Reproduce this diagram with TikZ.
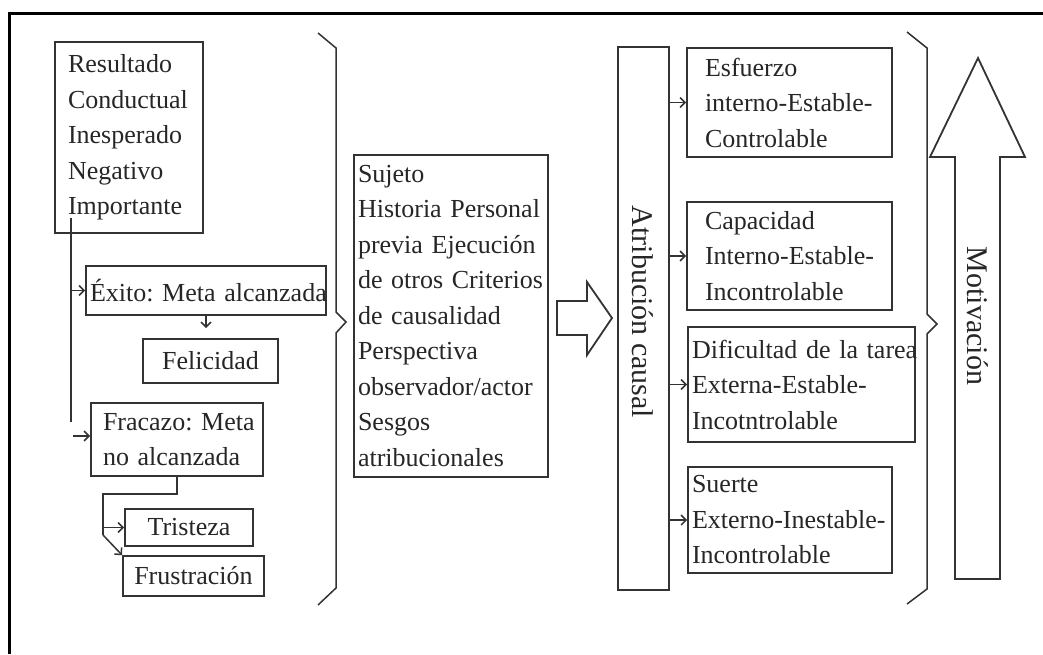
\documentclass[tikz,border=0pt]{standalone}
\usepackage{fontspec}
\setmainfont{Liberation Serif}
\usetikzlibrary{arrows.meta}
\definecolor{boxc}{HTML}{333333}
\definecolor{txt}{HTML}{262626}
\frenchspacing
\begin{document}
\frenchspacing
\begin{tikzpicture}[x=1pt,y=-1pt,
  box/.style={draw=boxc, line width=1.8pt, inner sep=0pt, text=txt, font=\fontsize{26}{35.5}\selectfont},
  lbox/.style={box, align=left},
  conn/.style={draw=boxc, line width=1.5pt, line join=miter},
  arr/.style={conn, -{Straight Barb[length=5pt,width=10pt]}},
  hollow/.style={draw=boxc, line width=1.8pt, line join=miter},
  vlab/.style={text=txt, font=\fontsize{30}{36}\selectfont, rotate=-90, inner sep=0pt}]
\useasboundingbox (0,0) rectangle (1043,654);
% frame (cropped)
\draw[line width=3pt, black] (1043,13) -- (9,13) -- (9,654);

% left column
\node[lbox, minimum width=148pt, minimum height=191pt, text width=122pt] (res) at (129,137.5)
  {Resultado\\Conductual\\Inesperado\\Negativo\\Importante};
\node[lbox, minimum width=240pt, minimum height=49pt, text width=232pt] (exito) at (206,290.5)
  {\mbox{Éxito: Meta alcanzada}};
\node[box, minimum width=135pt, minimum height=44pt] (feli) at (210.5,361) {Felicidad};
\node[lbox, minimum width=172pt, minimum height=73pt, text width=148pt] (fra) at (177,439.5)
  {\mbox{Fracazo: Meta}\\\mbox{no alcanzada}};
\node[box, minimum width=128pt, minimum height=37pt] (tri) at (189,527.5) {Tristeza};
\node[box, minimum width=141pt, minimum height=40pt] (fru) at (193.5,576) {Frustración};

\coordinate (t1) at (71,218);
\coordinate (t2) at (71,422);
\draw[conn] (t1) -- (t2);
\draw[arr] (t1 |- exito.west) -- (exito.west);
\coordinate (fin) at (73,436);
\draw[arr] (fin) -- (fin -| fra.west);
\draw[arr, shorten >=10pt] (exito.south) -- (exito.south |- feli.north);
\coordinate (b2) at (103,494);
\coordinate (b3) at (103,535);
\draw[conn] (fra.south) |- (b2) -- (b3);
\draw[arr] (b3 |- tri.west) -- (tri.west);
\draw[arr] (b3) -- (fru.north west);

% first brace
\draw[conn] (318,33) -- (336,48) -- (336,312) -- (346,322) -- (336,333) -- (336,588) -- (318,605);

% middle box
\node[lbox, minimum width=194pt, minimum height=322pt, text width=186pt] (suj) at (451,316)
  {Sujeto\\\mbox{Historia Personal}\\\mbox{previa Ejecución}\\\mbox{de otros Criterios}\\\mbox{de causalidad}\\Perspectiva\\observador/actor\\Sesgos\\atribucionales};

% hollow arrow
\draw[hollow] (557,301) -- (587,301) -- (587,282) -- (612,318) -- (587,355) -- (587,335) -- (557,335) -- cycle;

% attribution column
\node[box, minimum width=51pt, minimum height=543pt] (atr) at (643.5,318.5) {};
\node[vlab] (atrl) at (643,312) {Atribución causal};

\node[lbox, minimum width=205pt, minimum height=109pt, text width=169pt] (esf) at (789.5,102.5)
  {Esfuerzo\\\mbox{interno-Estable-}\\Controlable};
\node[lbox, minimum width=205pt, minimum height=108pt, text width=169pt] (cap) at (789.5,256)
  {Capacidad\\\mbox{Interno-Estable-}\\Incontrolable};
\node[lbox, minimum width=227pt, minimum height=115pt, text width=219pt] (dif) at (801.5,384.5)
  {\mbox{Dificultad de la tarea}\\\mbox{Externa-Estable-}\\Incotntrolable};
\node[lbox, minimum width=204pt, minimum height=106pt, text width=196pt] (sue) at (790,520)
  {Suerte\\\mbox{Externo-Inestable-}\\Incontrolable};

\foreach \b in {esf,cap,dif,sue} \draw[arr] (atr.east |- \b.west) -- (\b.west);

% second brace
\draw[conn] (907,32) -- (927,48) -- (927,314) -- (937,324) -- (927,334) -- (927,589) -- (907,604);

% motivation arrow
\draw[hollow] (955,579) -- (955,157) -- (930,157) -- (978,58) -- (1025,157) -- (1000,157) -- (1000,579) -- cycle;
\node[vlab] (mot) at (977.5,316) {Motivación};
\end{tikzpicture}
\end{document}
